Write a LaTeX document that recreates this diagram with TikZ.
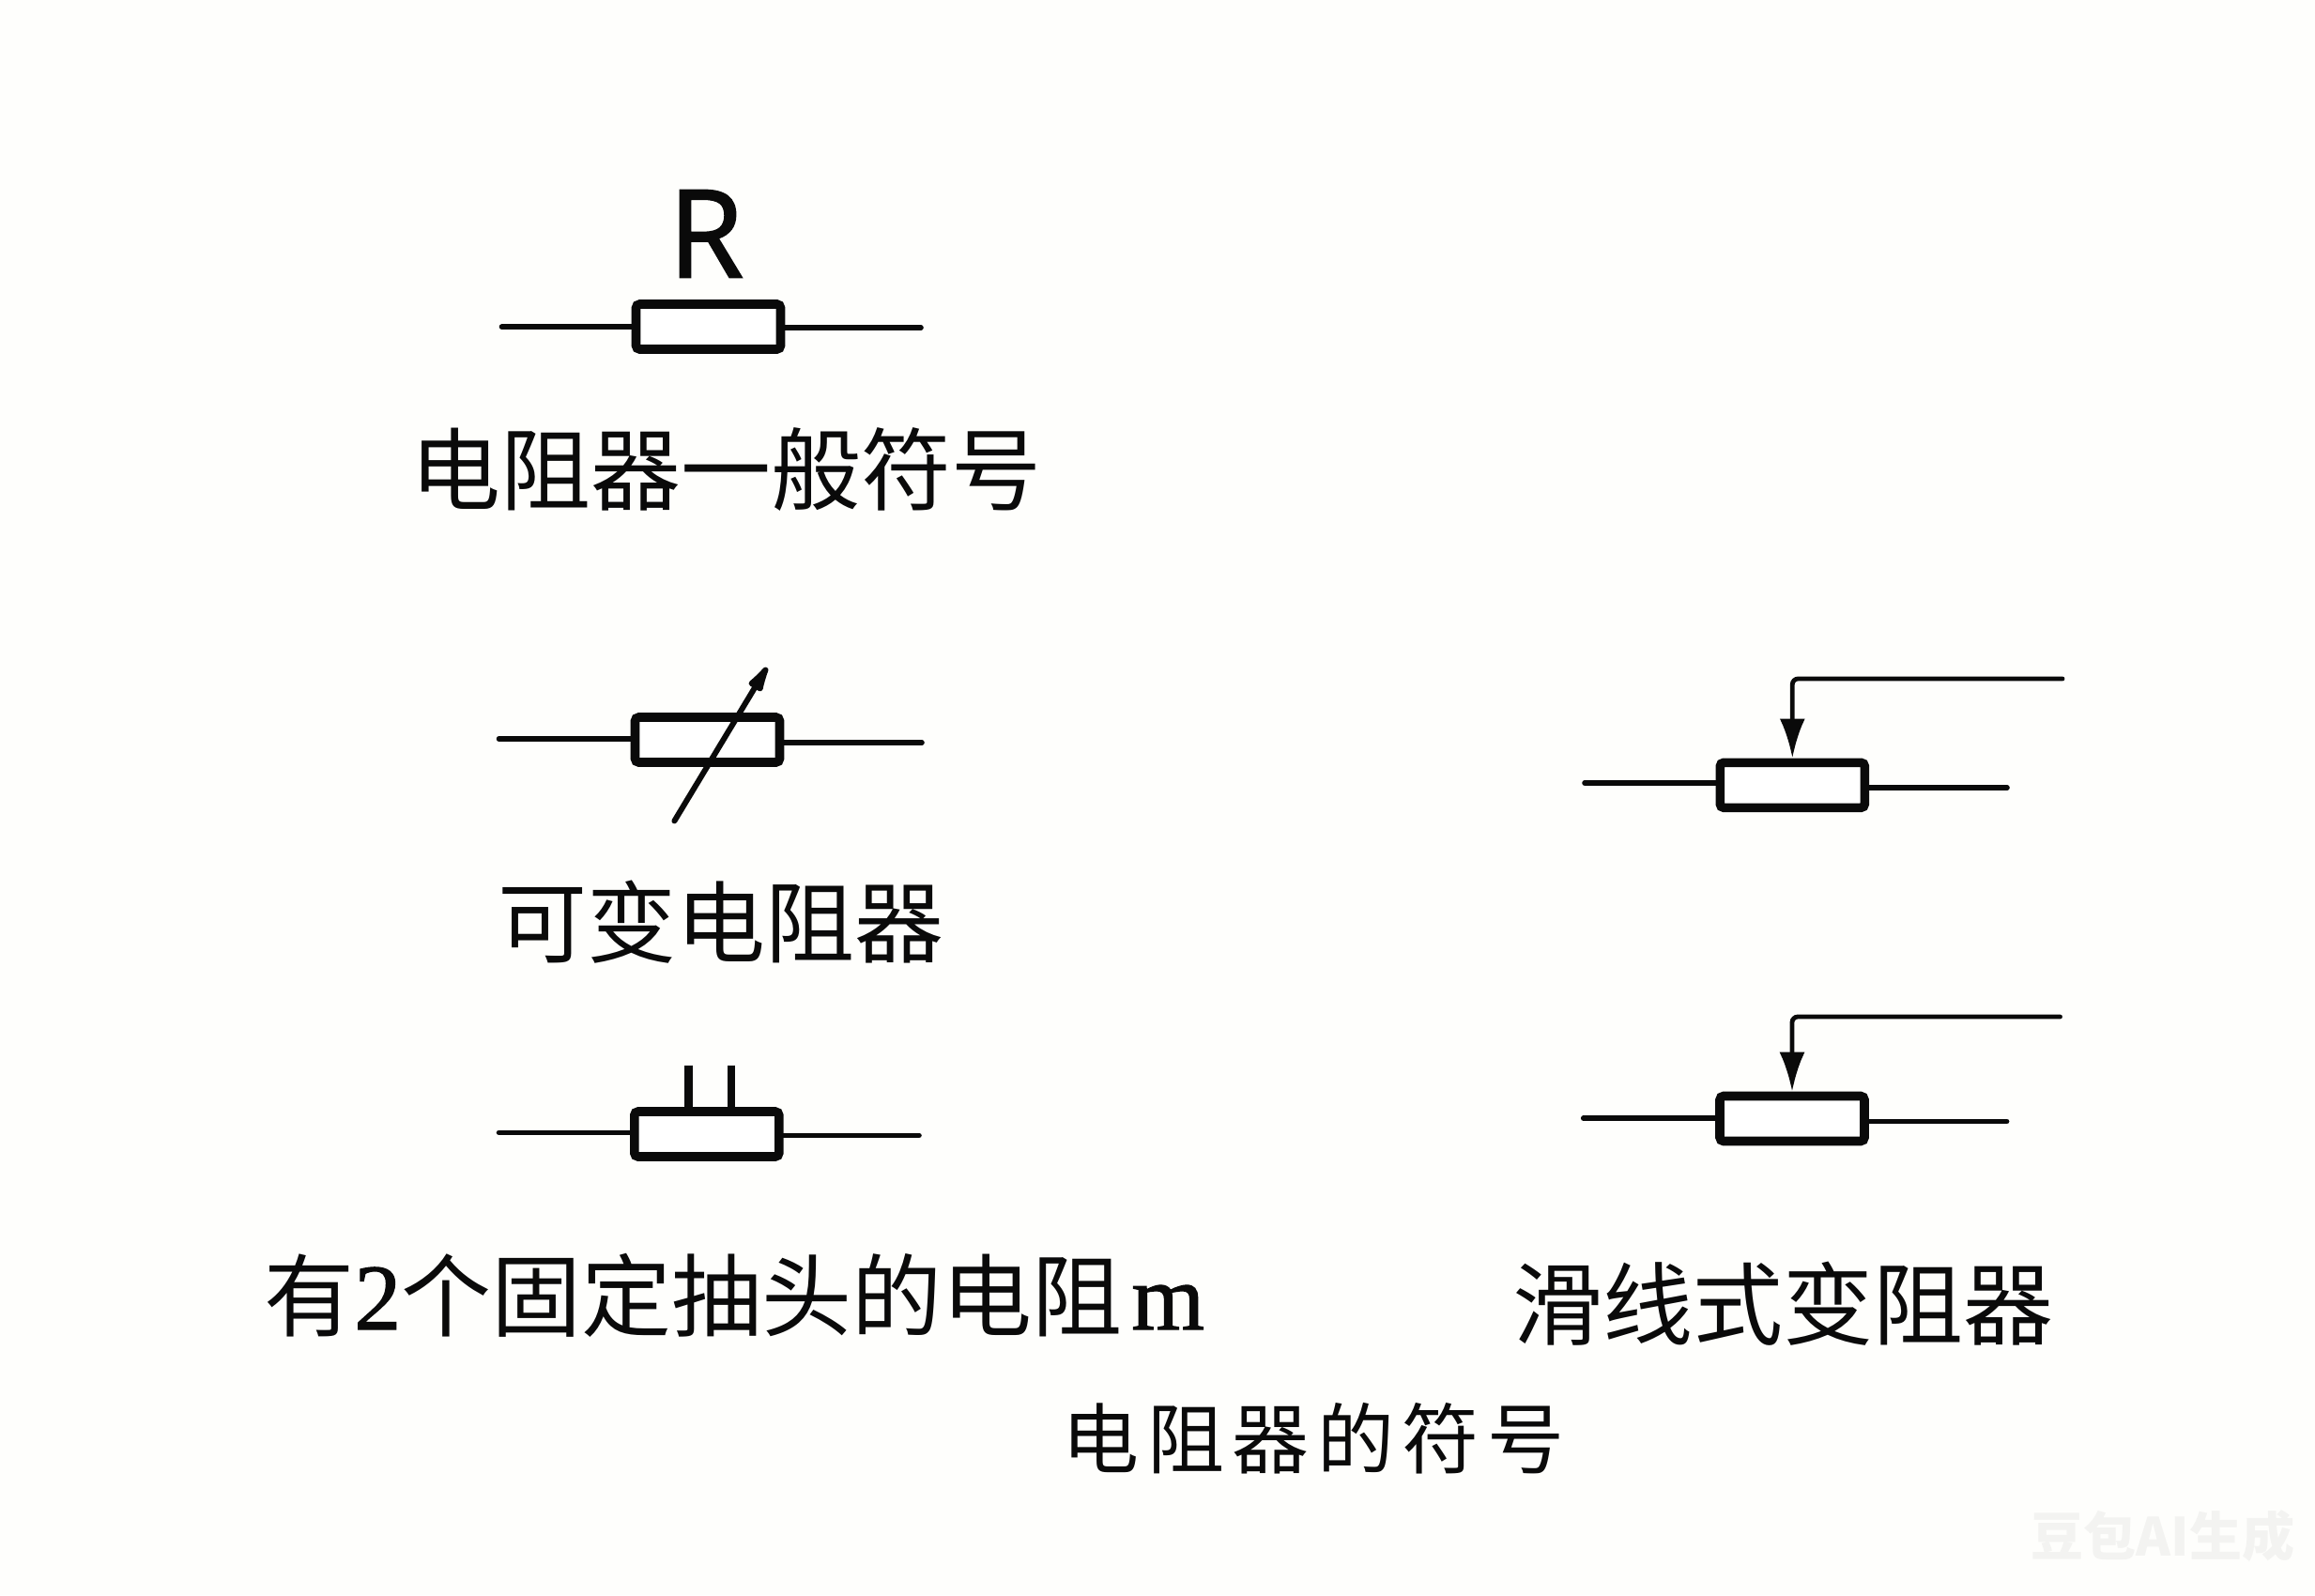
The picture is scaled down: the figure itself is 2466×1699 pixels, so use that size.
\documentclass[tikz,border=0pt]{standalone}
\usepackage{fontspec}
\setmainfont{Liberation Serif}
\newfontfamily\cjk{Noto Sans CJK SC}
\newfontfamily\rfont[RawFeature={embolden=1.5}]{Open Sans}
\newfontfamily\numfont[RawFeature={embolden=1.2}]{Liberation Serif}
\definecolor{paper}{HTML}{FEFEFC}
\definecolor{ink}{HTML}{0A0A0A}
\definecolor{mark}{HTML}{F3F3F1}
\usetikzlibrary{arrows.meta}
\tikzset{
  resbox/.style={draw=ink,fill=white,line width=4.8pt,rounded corners=2pt,inner sep=0pt,minimum width=77pt,minimum height=24pt},
  lead/.style={draw=ink,line width=2.8pt,line cap=round},
  wire/.style={draw=ink,line width=2.4pt,line cap=round,rounded corners=3pt,-{Latex[length=21pt,width=13.5pt]}},
  tapline/.style={draw=ink,line width=4.4pt},
  label/.style={inner sep=0pt,text=ink,font=\cjk\fontsize{47.5}{50}\selectfont},
}
\begin{document}
\begin{tikzpicture}[x=0.5pt,y=-0.5pt]
\fill[paper] (0,0) rectangle (2466,1699);
\useasboundingbox (0,0) rectangle (2466,1699);

% general symbol
\node[inner sep=0pt,text=ink,font=\rfont\fontsize{65}{68}\selectfont] (rlabel) at (752,249) {R};
\node[resbox] (b1) at (754.5,348) {};
\coordinate (l1) at (534.5,348.2);
\coordinate (r1) at (981,349);
\draw[lead] (l1) -- (l1 -| b1.west);
\draw[lead] (r1) -- (r1 -| b1.east);
\node[label,font=\cjk\fontsize{48}{50}\selectfont] (t1) at (773,500) {电阻器一般符号};

% variable resistor
\node[resbox] (b2) at (753.5,788) {};
\coordinate (l2) at (531.5,787);
\coordinate (r2) at (982,791);
\draw[lead] (l2) -- (l2 -| b2.west);
\draw[lead] (r2) -- (r2 -| b2.east);
\coordinate (s0) at (718.4,874.4);
\coordinate (s1) at (817,711);
\draw[draw=ink,line width=3pt,line cap=round,-{Latex[round,length=22pt,width=9.5pt]}] (s0) -- (s1);
\node[label] (t2) at (768,982) {可变电阻器};

% fixed taps
\node[resbox] (b3) at (752.8,1208) {};
\coordinate (l3) at (531.5,1206.4);
\coordinate (r3) at (979,1209.4);
\draw[lead] (l3) -- (l3 -| b3.west);
\draw[lead] (r3) -- (r3 -| b3.east);
\coordinate (p1) at (733.5,1134.6);
\coordinate (p2) at (779,1134.6);
\draw[tapline] (p1) -- (p1 |- b3.north);
\draw[tapline] (p2) -- (p2 |- b3.north);
\node[inner sep=0pt,text=ink,anchor=base west,font=\cjk\fontsize{48}{50}\selectfont] (t3) at (281,1416)
  {有{\numfont\fontsize{50}{50}\selectfont 2}个固定抽头的电阻\hspace{5pt}{\numfont\fontsize{50}{50}\selectfont m}};

% sliding rheostats
\node[resbox] (b4) at (1909.3,836.3) {};
\coordinate (l4) at (1688,834);
\coordinate (r4) at (2138,839);
\draw[lead] (l4) -- (l4 -| b4.west);
\draw[lead] (r4) -- (r4 -| b4.east);
\coordinate (w4) at (2197,723);
\draw[wire] (w4) -- (b4.north |- w4) -- (b4.north);

\node[resbox] (b5) at (1909,1191.5) {};
\coordinate (l5) at (1686.7,1191.2);
\coordinate (r5) at (2137.6,1194.5);
\draw[lead] (l5) -- (l5 -| b5.west);
\draw[lead] (r5) -- (r5 -| b5.east);
\coordinate (w5) at (2194.5,1083);
\draw[wire] (w5) -- (b5.north |- w5) -- (b5.north);

\node[label,font=\cjk\fontsize{48}{50}\selectfont] (t4) at (1899,1389) {滑线式变阻器};
\node[inner sep=0pt,text=ink,font=\cjk\fontsize{41}{44}\addfontfeatures{LetterSpace=10.5}\selectfont] (t5) at (1399,1532) {电阻器的符号};

% watermark
\node[inner sep=0pt,text=mark,font=\cjk\bfseries\fontsize{28}{30}\selectfont] (wm) at (2304,1636) {豆包AI生成};
\end{tikzpicture}
\end{document}
